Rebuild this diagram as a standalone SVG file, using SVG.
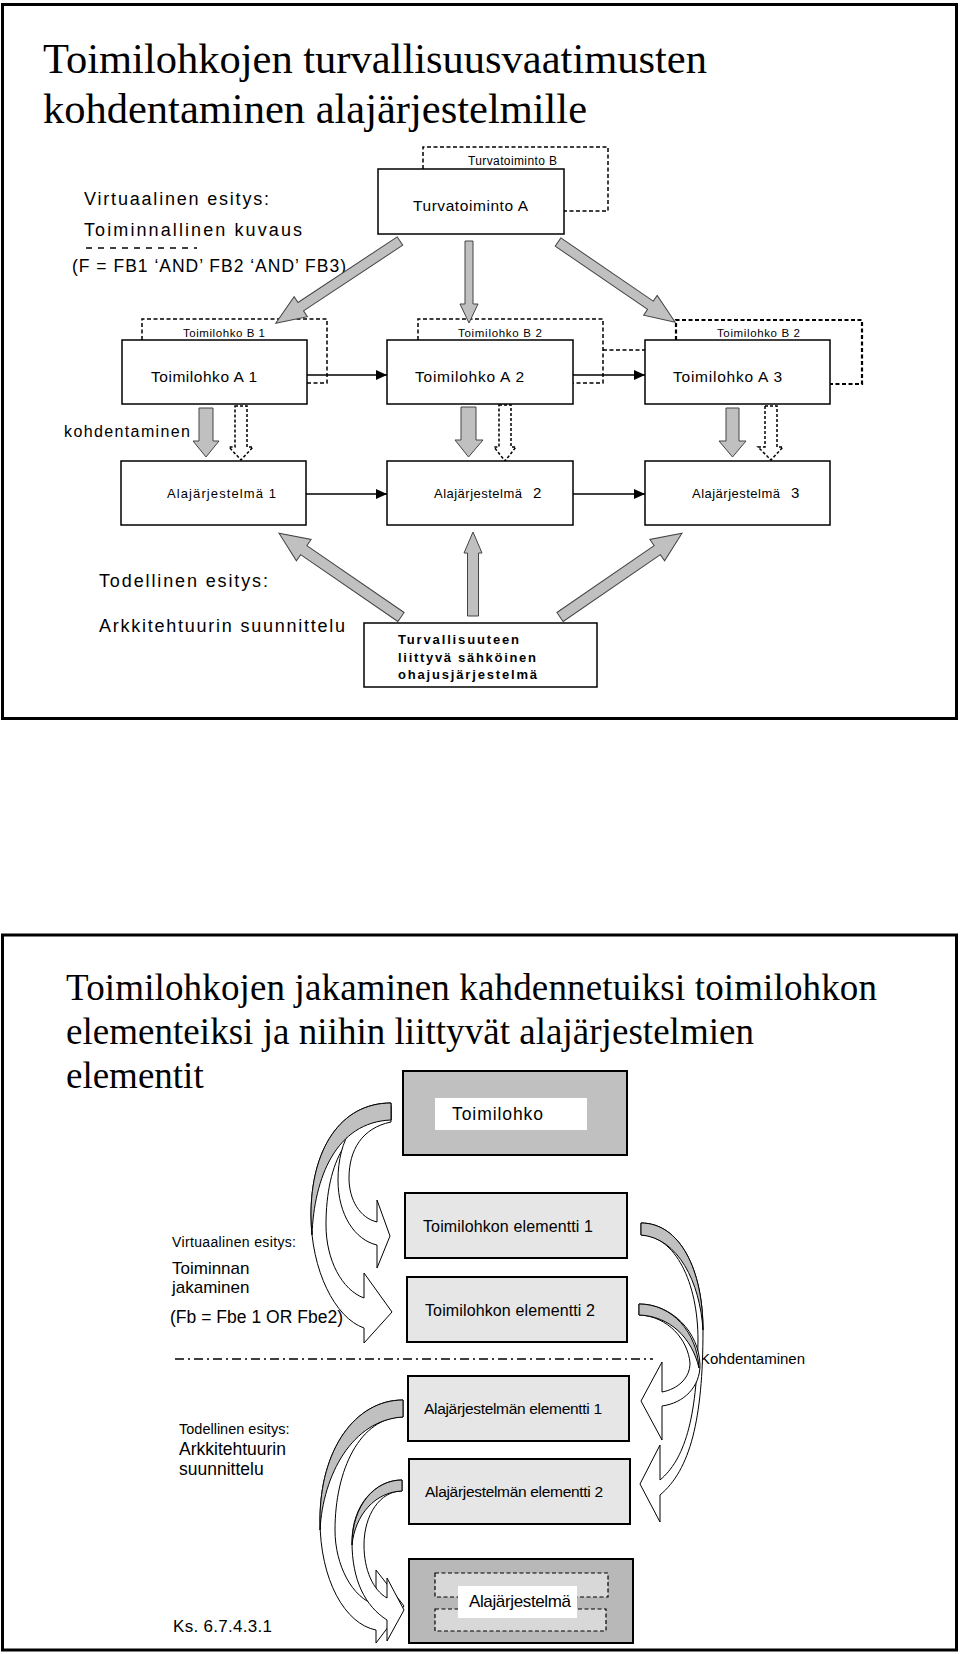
<svg xmlns="http://www.w3.org/2000/svg" width="960" height="1654" viewBox="0 0 960 1654">
<defs>
<style>
.frame{fill:#fff;stroke:#000;stroke-width:3}
.box{fill:#fff;stroke:#000;stroke-width:1.5}
.box2{stroke:#000;stroke-width:2}
.dash{fill:none;stroke:#000;stroke-width:1.5;stroke-dasharray:4 2.5}
.dashb{fill:none;stroke:#000;stroke-width:2.2;stroke-dasharray:4 2.5}
.hollow{fill:#fff;stroke:#000;stroke-width:1.5;stroke-dasharray:3 2}
.garrow{fill:#c0c0c0;stroke:#444;stroke-width:1}
.conn{stroke:#000;stroke-width:1.5;fill:none}
.curve{fill:#fff;stroke:#000;stroke-width:1}
.cres{fill:#c0c0c0;stroke:#000;stroke-width:1}
.t{font-family:"Liberation Sans",Arial,sans-serif;fill:#000}
.tb{font-family:"Liberation Sans",Arial,sans-serif;font-weight:bold;fill:#000}
.ti{font-family:"Liberation Serif","Times New Roman",serif;fill:#000}
</style>
<marker id="ah" markerWidth="11" markerHeight="10" refX="11" refY="5" orient="auto" markerUnits="userSpaceOnUse"><path d="M0,0 L11,5 L0,10 Z" fill="#000"/></marker>
</defs>

<!-- Frame 1 -->
<rect class="frame" x="2.5" y="4.5" width="954" height="714"/>
<g id="title1">
<text class="ti" x="43" y="73" font-size="42.5">Toimilohkojen turvallisuusvaatimusten</text>
<text class="ti" x="43" y="123" font-size="42.5">kohdentaminen alajärjestelmille</text>
</g>
<g id="virtual-label">
<text class="t" x="84" y="205" font-size="18" textLength="185" lengthAdjust="spacing">Virtuaalinen esitys:</text>
<text class="t" x="84" y="236" font-size="18" textLength="218" lengthAdjust="spacing">Toiminnallinen kuvaus</text>
<line x1="86" y1="248" x2="197" y2="248" stroke="#000" stroke-width="1.3" stroke-dasharray="6 6"/>
<text class="t" x="72" y="272" font-size="17.5" textLength="274" lengthAdjust="spacing">(F = FB1 ‘AND’ FB2 ‘AND’ FB3)</text>
</g>

<g id="connectors-top">
<!-- Turvatoiminto B dashed -->
<path class="dash" d="M423,169 V147 H608 V211 H564"/>
<!-- B1 -->
<path class="dash" d="M142,340 V319 H327 V383 H307"/>
<!-- B2 middle -->
<path class="dash" d="M418,340 V319 H603 V383 H573 M603,350 H645"/>
<!-- B2 right -->
<path class="dashb" d="M676,340 V320 H862 V384 H830"/>
<!-- horizontal arrows -->
<line class="conn" x1="307" y1="375" x2="387" y2="375" marker-end="url(#ah)"/>
<line class="conn" x1="573" y1="375" x2="645" y2="375" marker-end="url(#ah)"/>
<line class="conn" x1="306" y1="494" x2="387" y2="494" marker-end="url(#ah)"/>
<line class="conn" x1="573" y1="494" x2="645" y2="494" marker-end="url(#ah)"/>
<!-- gray block arrows from Turvatoiminto A -->
<polygon class="garrow" transform="translate(400,241) rotate(146.5)" points="0,-5 119,-5 119,-12 149,0 119,12 119,5 0,5"/>
<polygon class="garrow" points="465,241 473,241 473,304 478,304 469,323 460,304 465,304"/>
<polygon class="garrow" transform="translate(558,242) rotate(34.4)" points="0,-5 112,-5 112,-12 142,0 112,12 112,5 0,5"/>
<!-- down gray arrows -->
<polygon class="garrow" points="199,408 213,408 213,441 219,441 206,457 193,441 199,441"/>
<polygon class="garrow" points="461,407 476,407 476,440 483,440 468.5,457 455,440 461,440"/>
<polygon class="garrow" points="726,408 739,408 739,441 746,441 732.5,457 719,441 726,441"/>
<!-- hollow dashed arrows -->
<polygon class="hollow" points="235,406 247,406 247,447 253,447 241,460 229,447 235,447"/>
<polygon class="hollow" points="499,405 511,405 511,447 516,447 505,461 494,447 499,447"/>
<polygon class="hollow" points="765,406 777,406 777,447 783,447 771,460 758,447 765,447"/>
<!-- up gray arrows -->
<polygon class="garrow" transform="translate(401,617) rotate(-145.5)" points="0,-5.5 118,-5.5 118,-13 148,0 118,13 118,5.5 0,5.5"/>
<polygon class="garrow" points="467.5,616 478.5,616 478.5,553 482,553 473,532 464,553 467.5,553"/>
<polygon class="garrow" transform="translate(560,617) rotate(-34.5)" points="0,-5.5 118,-5.5 118,-13 148,0 118,13 118,5.5 0,5.5"/>
</g>

<g id="turvatoiminto-a">
<rect class="box" x="378" y="169" width="186" height="65"/>
<text class="t" x="413" y="211" font-size="15.5" textLength="115" lengthAdjust="spacing">Turvatoiminto A</text>
</g>
<g id="turvatoiminto-b-label">
<text class="t" x="468" y="165" font-size="12" textLength="89" lengthAdjust="spacing">Turvatoiminto B</text>
</g>

<g id="toimilohko-a1">
<rect class="box" x="122" y="340" width="185" height="64"/>
<text class="t" x="151" y="382" font-size="15.5" textLength="106" lengthAdjust="spacing">Toimilohko A 1</text>
<text class="t" x="183" y="337" font-size="11.5" textLength="82" lengthAdjust="spacing">Toimilohko B 1</text>
</g>
<g id="toimilohko-a2">
<rect class="box" x="387" y="340" width="186" height="64"/>
<text class="t" x="415" y="382" font-size="15.5" textLength="109" lengthAdjust="spacing">Toimilohko A 2</text>
<text class="t" x="458" y="337" font-size="11.5" textLength="84" lengthAdjust="spacing">Toimilohko B 2</text>
</g>
<g id="toimilohko-a3">
<rect class="box" x="645" y="340" width="185" height="64"/>
<text class="t" x="673" y="382" font-size="15.5" textLength="109" lengthAdjust="spacing">Toimilohko A 3</text>
<text class="t" x="717" y="337" font-size="11.5" textLength="83" lengthAdjust="spacing">Toimilohko B 2</text>
</g>

<g id="kohdentaminen-label">
<text class="t" x="64" y="437" font-size="16" textLength="126" lengthAdjust="spacing">kohdentaminen</text>
</g>

<g id="alajarjestelma-1">
<rect class="box" x="121" y="461" width="185" height="64"/>
<text class="t" x="167" y="498" font-size="13" textLength="109" lengthAdjust="spacing">Alajärjestelmä  1</text>
</g>
<g id="alajarjestelma-2">
<rect class="box" x="387" y="461" width="186" height="64"/>
<text class="t" x="434" y="498" font-size="13"><tspan textLength="88" lengthAdjust="spacing">Alajärjestelmä</tspan><tspan x="533" font-size="15">2</tspan></text>
</g>
<g id="alajarjestelma-3">
<rect class="box" x="645" y="461" width="185" height="64"/>
<text class="t" x="692" y="498" font-size="13"><tspan textLength="88" lengthAdjust="spacing">Alajärjestelmä</tspan><tspan x="791" font-size="15">3</tspan></text>
</g>

<g id="real-label">
<text class="t" x="99" y="587" font-size="18" textLength="169" lengthAdjust="spacing">Todellinen esitys:</text>
<text class="t" x="99" y="632" font-size="18" textLength="246" lengthAdjust="spacing">Arkkitehtuurin suunnittelu</text>
</g>

<g id="turvallisuus-box">
<rect class="box" x="364" y="623" width="233" height="64"/>
<text class="tb" x="398" y="644" font-size="13" textLength="121" lengthAdjust="spacing">Turvallisuuteen</text>
<text class="tb" x="398" y="662" font-size="13" textLength="138" lengthAdjust="spacing">liittyvä sähköinen</text>
<text class="tb" x="398" y="679" font-size="13" textLength="139" lengthAdjust="spacing">ohajusjärjestelmä</text>
</g>

<!-- Frame 2 -->
<rect class="frame" x="2.5" y="935" width="954" height="715"/>
<g id="title2">
<text class="ti" x="66" y="1000" font-size="37" textLength="811" lengthAdjust="spacing">Toimilohkojen jakaminen kahdennetuiksi toimilohkon</text>
<text class="ti" x="66" y="1044" font-size="37" textLength="688" lengthAdjust="spacing">elementeiksi ja niihin liittyvät alajärjestelmien</text>
<text class="ti" x="66" y="1088" font-size="37">elementit</text>
</g>

<g id="toimilohko">
<rect class="box2" x="403" y="1071" width="224" height="84" fill="#c0c0c0"/>
<rect x="435" y="1098" width="152" height="32" fill="#fff"/>
<text class="t" x="452" y="1120" font-size="17.5" textLength="91" lengthAdjust="spacing">Toimilohko</text>
</g>
<g id="elementti-1">
<rect class="box2" x="405" y="1193" width="222" height="65" fill="#e6e6e6"/>
<text class="t" x="423" y="1232" font-size="16" textLength="170" lengthAdjust="spacing">Toimilohkon elementti 1</text>
</g>
<g id="elementti-2">
<rect class="box2" x="407" y="1277" width="220" height="65" fill="#e6e6e6"/>
<text class="t" x="425" y="1316" font-size="16" textLength="170" lengthAdjust="spacing">Toimilohkon elementti 2</text>
</g>
<g id="alaj-elementti-1">
<rect class="box2" x="408" y="1376" width="221" height="65" fill="#e6e6e6"/>
<text class="t" x="424" y="1414" font-size="15.5" textLength="178" lengthAdjust="spacing">Alajärjestelmän elementti 1</text>
</g>
<g id="alaj-elementti-2">
<rect class="box2" x="409" y="1459" width="221" height="65" fill="#e6e6e6"/>
<text class="t" x="425" y="1497" font-size="15.5" textLength="178" lengthAdjust="spacing">Alajärjestelmän elementti 2</text>
</g>
<g id="alajarjestelma">
<rect class="box2" x="409" y="1559" width="224" height="84" fill="#b8b8b8"/>
<rect x="435" y="1573" width="173" height="24" fill="#d8d8d8" stroke="#000" stroke-width="1.2" stroke-dasharray="4 2.5"/>
<rect x="435" y="1609" width="171" height="22" fill="#d8d8d8" stroke="#000" stroke-width="1.2" stroke-dasharray="4 2.5"/>
<rect x="458" y="1586" width="119" height="32" fill="#fff"/>
<text class="t" x="469" y="1607" font-size="17" textLength="102" lengthAdjust="spacing">Alajärjestelmä</text>
</g>

<g id="labels2">
<text class="t" x="172" y="1247" font-size="14" textLength="124" lengthAdjust="spacing">Virtuaalinen esitys:</text>
<text class="t" x="172" y="1274" font-size="17">Toiminnan</text>
<text class="t" x="172" y="1293" font-size="17">jakaminen</text>
<text class="t" x="170" y="1323" font-size="17.5" textLength="173" lengthAdjust="spacing">(Fb = Fbe 1 OR Fbe2)</text>
<text class="t" x="700" y="1364" font-size="15" textLength="105" lengthAdjust="spacing">Kohdentaminen</text>
<text class="t" x="179" y="1434" font-size="14.5">Todellinen esitys:</text>
<text class="t" x="179" y="1455" font-size="17.5">Arkkitehtuurin</text>
<text class="t" x="179" y="1475" font-size="17.5">suunnittelu</text>
<text class="t" x="173" y="1632" font-size="17" textLength="99" lengthAdjust="spacing">Ks. 6.7.4.3.1</text>
</g>

<g id="connectors-bottom">
<line x1="175" y1="1359" x2="653" y2="1359" stroke="#000" stroke-width="1.5" stroke-dasharray="9 4 2 4"/>
<!-- Toimilohko -> elementti 2 -->
<path class="curve" d="M391,1103 C340,1103 311,1150 311,1215 C311,1270 335,1318 364,1328 L364,1343 L392,1312 L364,1273 L364,1298 C342,1290 326,1260 326,1225 C326,1160 350,1120 391,1120 Z"/>
<!-- Toimilohko -> elementti 1 -->
<path class="curve" d="M391,1106 C356,1108 338,1140 338,1180 C338,1215 355,1240 377,1245 L377,1268 L390,1236 L377,1200 L377,1222 C360,1218 349,1200 349,1178 C349,1150 362,1128 391,1122 Z"/>
<path class="cres" d="M391,1103 C340,1103 311,1150 311,1215 C311,1222 311.5,1228 312,1235 C314,1178 336,1122 391,1120 Z"/>
<!-- elementti 1 -> alaj elementti 2 -->
<path class="curve" d="M641,1223 C680,1223 703,1270 703,1330 C703,1420 690,1470 660,1495 L660,1522 L640,1484 L660,1445 L660,1480 C684,1460 697,1420 698,1340 C698,1282 675,1236 641,1235 Z"/>
<path class="cres" d="M641,1223 C680,1223 703,1270 703,1330 C700,1282 678,1238 641,1235 Z"/>
<!-- elementti 2 -> alaj elementti 1 -->
<path class="curve" d="M639,1304 C672,1304 699,1332 700,1365 C700,1387 684,1403 662,1406 L662,1440 L641,1401 L662,1362 L662,1392 C678,1389 690,1378 690,1363 C688,1340 668,1316 639,1315 Z"/>
<path class="cres" d="M639,1304 C672,1304 697,1332 699,1368 C692,1338 670,1316 639,1315 Z"/>
<!-- alaj elementti 1 -> alajarjestelma -->
<path class="curve" d="M403,1400 C355,1400 320,1450 320,1520 C320,1580 345,1624 376,1630 L376,1643 L404,1606 L376,1570 L376,1605 C352,1598 335,1565 335,1530 C335,1470 360,1417 403,1417 Z"/>
<path class="cres" d="M403,1400 C355,1400 320,1450 320,1520 L320,1530 C323,1475 352,1420 403,1417 Z"/>
<!-- alaj elementti 2 -> alajarjestelma -->
<path class="curve" d="M402,1480 C375,1480 352,1505 352,1542 C352,1580 365,1606 387,1620 L387,1641 L404,1610 L387,1578 L387,1598 C373,1590 364,1570 364,1545 C364,1515 380,1491 402,1491 Z"/>
<path class="cres" d="M402,1480 C375,1480 352,1505 352,1545 C355,1515 375,1492 402,1491 Z"/>
</g>
</svg>
